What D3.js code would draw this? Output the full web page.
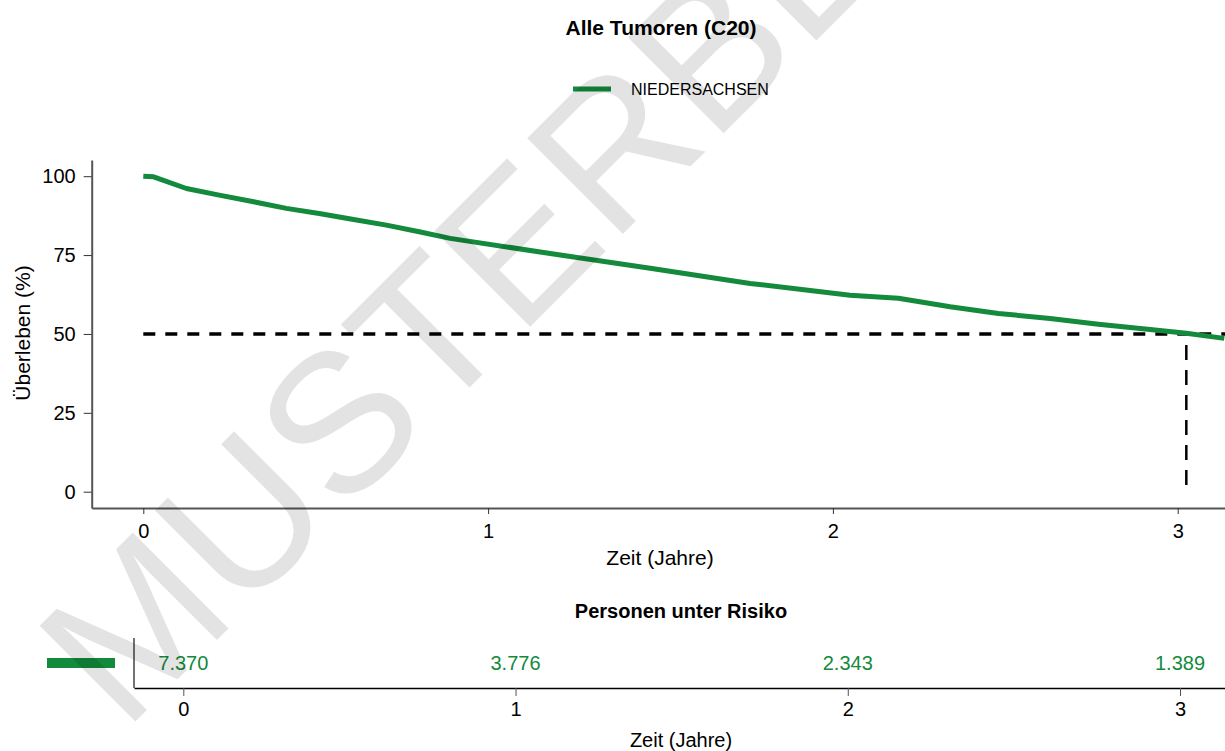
<!DOCTYPE html>
<html>
<head>
<meta charset="utf-8">
<script src="https://cdn.jsdelivr.net/npm/d3@7"></script>
<style>
html,body{margin:0;padding:0;background:#fff;}
svg{display:block;font-family:"Liberation Sans",Arial,Helvetica,sans-serif;}
</style>
</head>
<body>
<svg id="chart" width="1225" height="751"></svg>
<script>
// ---- data ----
const seriesName = "NIEDERSACHSEN";
const timeYears = [0, 0.03, 0.125, 0.22, 0.32, 0.415, 0.51, 0.61, 0.705, 0.80, 0.89, 1.18, 1.47, 1.76, 2.05, 2.19, 2.34, 2.48, 2.63, 2.77, 2.92, 3.025, 3.135];
const survival  = [100, 99.8, 96.1, 94.0, 91.9, 89.8, 88.2, 86.3, 84.5, 82.4, 80.3, 75.5, 70.8, 66.0, 62.3, 61.3, 58.6, 56.5, 54.9, 53.1, 51.4, 50.2, 48.6];
const xTicks = [0, 1, 2, 3];
const yTicks = [0, 25, 50, 75, 100];
const medianLevel = 50;
const medianTime = 3.025;
const riskTimes = [0, 1, 2, 3];
const riskLabels = ["7.370", "3.776", "2.343", "1.389"];

const green = "#138a3c";
const svg = d3.select("#chart");
svg.append("rect").attr("width",1225).attr("height",751).attr("fill","#fff");

// ---- scales ----
const x = d3.scaleLinear().domain([0,3]).range([143.3,1177.7]);
const y = d3.scaleLinear().domain([0,100]).range([491.7,176.2]);
const xAxisScale = d3.scaleLinear().domain([x.invert(91.7), x.invert(1225)]).range([91.7,1225]);
const yAxisScale = d3.scaleLinear().domain([y.invert(508), y.invert(160)]).range([508,160]);

// title
svg.append("text").attr("x",661).attr("y",35).attr("text-anchor","middle")
  .attr("font-weight","bold").attr("font-size",21).attr("fill","#000").text("Alle Tumoren (C20)");

// legend
svg.append("line").attr("x1",573).attr("x2",611).attr("y1",89).attr("y2",89)
  .attr("stroke",green).attr("stroke-width",5);
svg.append("text").attr("x",631).attr("y",95).attr("font-size",16).attr("fill","#000").text(seriesName);

// x axis
const gx = svg.append("g").attr("transform","translate(0,508)")
  .call(d3.axisBottom(xAxisScale).tickValues(xTicks).tickFormat(d3.format("d")).tickSizeOuter(0).tickSizeInner(6).tickPadding(10));
gx.select(".domain").attr("stroke","#555").attr("stroke-width",2);
gx.selectAll(".tick line").attr("stroke","#333");
gx.selectAll(".tick text").attr("font-size",20).attr("fill","#000").attr("font-family",null);

// y axis
const gy = svg.append("g").attr("transform","translate(91.7,0)")
  .call(d3.axisLeft(yAxisScale).tickValues(yTicks).tickSizeOuter(0).tickSizeInner(8).tickPadding(8));
gy.select(".domain").attr("stroke","#555").attr("stroke-width",2);
gy.selectAll(".tick line").attr("stroke","#333");
gy.selectAll(".tick text").attr("font-size",20).attr("fill","#000").attr("font-family",null);

svg.append("text").attr("x",660).attr("y",565).attr("text-anchor","middle").attr("font-size",21).text("Zeit (Jahre)");
svg.append("text").attr("transform","translate(30,333) rotate(-90)").attr("text-anchor","middle").attr("font-size",21).text("Überleben (%)");

// median lines
svg.append("line").attr("x1",x(0)).attr("x2",1225).attr("y1",y(medianLevel)).attr("y2",y(medianLevel))
  .attr("stroke","#000").attr("stroke-width",3.5).attr("stroke-dasharray","12,10");
svg.append("line").attr("x1",x(medianTime)).attr("x2",x(medianTime)).attr("y1",y(medianLevel)+11).attr("y2",y(0))
  .attr("stroke","#000").attr("stroke-width",2.5).attr("stroke-dasharray","15,10");

// survival curve
const pts = timeYears.map((t,i)=>[t,survival[i]]);
svg.append("path").datum(pts)
  .attr("d", d3.line().x(d=>x(d[0])).y(d=>y(d[1])).curve(d3.curveLinear))
  .attr("fill","none").attr("stroke",green).attr("stroke-width",5).attr("stroke-linejoin","round");

// ---- risk table ----
svg.append("text").attr("x",681).attr("y",618).attr("text-anchor","middle")
  .attr("font-weight","bold").attr("font-size",20).text("Personen unter Risiko");
const rx = d3.scaleLinear().domain([0,3]).range([183.3,1180]);
const rxAxis = d3.scaleLinear().domain([rx.invert(134), rx.invert(1225)]).range([134,1225]);
const gr = svg.append("g").attr("transform","translate(0,688)")
  .call(d3.axisBottom(rxAxis).tickValues(riskTimes).tickFormat(d3.format("d")).tickSizeOuter(0).tickSizeInner(8).tickPadding(6));
gr.select(".domain").attr("stroke","#000").attr("stroke-width",1.5);
gr.selectAll(".tick line").attr("stroke","#555");
gr.selectAll(".tick text").attr("font-size",20).attr("fill","#000").attr("font-family",null);
svg.append("line").attr("x1",134).attr("x2",134).attr("y1",638).attr("y2",688).attr("stroke","#444").attr("stroke-width",1.5);
svg.append("rect").attr("x",47).attr("y",658).attr("width",68).attr("height",10).attr("fill",green);
svg.selectAll("text.risk").data(riskLabels).enter().append("text").attr("class","risk")
  .attr("x",(d,i)=>rx(riskTimes[i])).attr("y",670).attr("text-anchor","middle")
  .attr("font-size",20).attr("fill",green).text(d=>d);
svg.append("text").attr("x",681).attr("y",747).attr("text-anchor","middle").attr("font-size",20).text("Zeit (Jahre)");

// watermark
svg.append("text").attr("transform","translate(124,733) rotate(-45)")
  .attr("font-size",197).attr("fill","#000").attr("fill-opacity",0.11).text("MUSTERBEISPIEL");
</script>
</body>
</html>
